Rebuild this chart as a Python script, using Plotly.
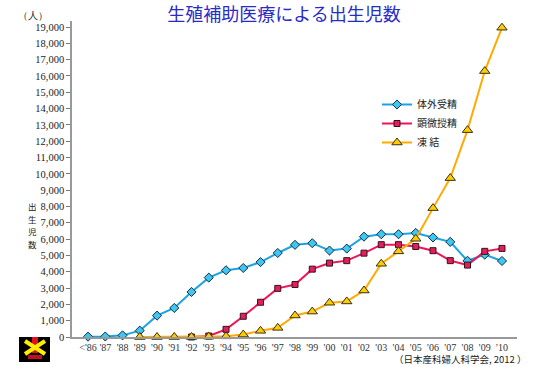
import plotly.graph_objects as go

categories = ["<'86", "'87", "'88", "'89", "'90", "'91", "'92", "'93", "'94", "'95",
              "'96", "'97", "'98", "'99", "'00", "'01", "'02", "'03", "'04", "'05",
              "'06", "'07", "'08", "'09", "'10"]

ivf = [20, 30, 100, 390, 1310, 1780, 2760, 3640, 4090, 4230,
       4590, 5150, 5650, 5750, 5300, 5420, 6150, 6300, 6300, 6380,
       6100, 5830, 4670, 5050, 4660]

icsi_cats = categories[6:]
icsi = [0, 60, 470, 1270, 2130, 2980, 3220, 4160, 4530, 4680,
        5140, 5660, 5660, 5550, 5290, 4680, 4410, 5250, 5430]

fet_cats = categories[3:]
fet = [0, 0, 0, 0, 20, 40, 150, 380, 560, 1320,
       1560, 2100, 2180, 2850, 4490, 5250, 6020, 7900, 9740, 12680,
       16300, 18960]

y_ticks = list(range(0, 19001, 1000))
y_title_chars = ["出", "生", "児", "数"]

fig = go.Figure()

fig.add_trace(go.Scatter(
    x=categories, y=ivf, name="体外受精", mode="lines+markers",
    line=dict(color="#1ca3e6", width=2),
    marker=dict(symbol="diamond", size=7, color="#3cc8f0", line=dict(color="#1a2a40", width=1)),
    cliponaxis=False))
fig.add_trace(go.Scatter(
    x=icsi_cats, y=icsi, name="顕微授精", mode="lines+markers",
    line=dict(color="#ee1555", width=2),
    marker=dict(symbol="square", size=6, color="#e0205a", line=dict(color="#3a1020", width=1)),
    cliponaxis=False))
fig.add_trace(go.Scatter(
    x=fet_cats, y=fet, name="凍 結", mode="lines+markers",
    line=dict(color="#ffaa00", width=2),
    marker=dict(symbol="triangle-up", size=9, color="#ffcc00", line=dict(color="#3a3010", width=1)),
    cliponaxis=False))

# pixel -> paper helpers (plot area: x 72..517, y 21..337)
def px(xp):
    return (xp - 72) / 445
def py(yp):
    return (337 - yp) / 316

fig.update_layout(
    width=550, height=367,
    margin=dict(l=72, r=33, t=21, b=30),
    paper_bgcolor="white", plot_bgcolor="white",
    title=dict(text="生殖補助医療による出生児数", x=284 / 550, xanchor="center", y=1 - 15 / 367, yanchor="middle",
               font=dict(family="Noto Sans CJK JP", size=18, color="#2a2ac8")),
    showlegend=True,
    legend=dict(x=px(377), y=py(90), xanchor="left", yanchor="top", bgcolor="rgba(0,0,0,0)",
                font=dict(family="Noto Sans CJK JP", size=10, color="#222222"),
                tracegroupgap=0, itemwidth=30),
    xaxis=dict(type="category", categoryorder="array", categoryarray=categories,
               range=[-0.93, 24.87], showgrid=False, zeroline=False,
               showline=True, linecolor="#999999", linewidth=1.5, ticks="",
               tickfont=dict(family="Liberation Serif", size=10, color="#333333")),
    yaxis=dict(range=[0, 19370], tickvals=y_ticks, tickformat=",d", showgrid=False, zeroline=False,
               showline=True, linecolor="#999999", linewidth=1.5, ticks="outside", ticklen=4,
               tickcolor="#777777",
               tickfont=dict(family="Liberation Serif", size=10.5, color="#222222")),
)

fig.add_annotation(text="（人）", x=px(33), y=py(16), xref="paper", yref="paper", showarrow=False,
                   xanchor="center", yanchor="middle",
                   font=dict(family="Liberation Serif", size=10, color="#222222"))
for i, ch in enumerate(y_title_chars):
    fig.add_annotation(text=ch, x=px(32), y=py(206 + 12.5 * i), xref="paper", yref="paper",
                       showarrow=False, xanchor="center", yanchor="middle",
                       font=dict(family="Noto Sans CJK JP", size=8.5, color="#222222"))
fig.add_annotation(text="（日本産科婦人科学会, 2012 ）", x=px(529), y=py(359), xref="paper", yref="paper",
                   xanchor="right", yanchor="middle", showarrow=False,
                   font=dict(family="Noto Sans CJK JP", size=9.5, color="#222222"))

# simple logo
shapes = [
    dict(type="rect", xref="paper", yref="paper", x0=px(19), x1=px(50), y0=py(337), y1=py(362),
         fillcolor="black", line=dict(width=0)),
    dict(type="rect", xref="paper", yref="paper", x0=px(32), x1=px(38), y0=py(337), y1=py(353),
         fillcolor="#e01020", line=dict(width=0)),
    dict(type="line", xref="paper", yref="paper", x0=px(25), x1=px(45), y0=py(341), y1=py(354),
         line=dict(color="#ffee00", width=4)),
    dict(type="line", xref="paper", yref="paper", x0=px(25), x1=px(45), y0=py(354), y1=py(341),
         line=dict(color="#ffee00", width=4)),
    dict(type="rect", xref="paper", yref="paper", x0=px(28), x1=px(42), y0=py(355), y1=py(359),
         fillcolor="#c01020", line=dict(width=0)),
]
fig.update_layout(shapes=shapes)

fig.write_html("out.html", config={"displayModeBar": False},
               post_script="document.body.style.margin='0px';document.body.style.padding='0px';")
